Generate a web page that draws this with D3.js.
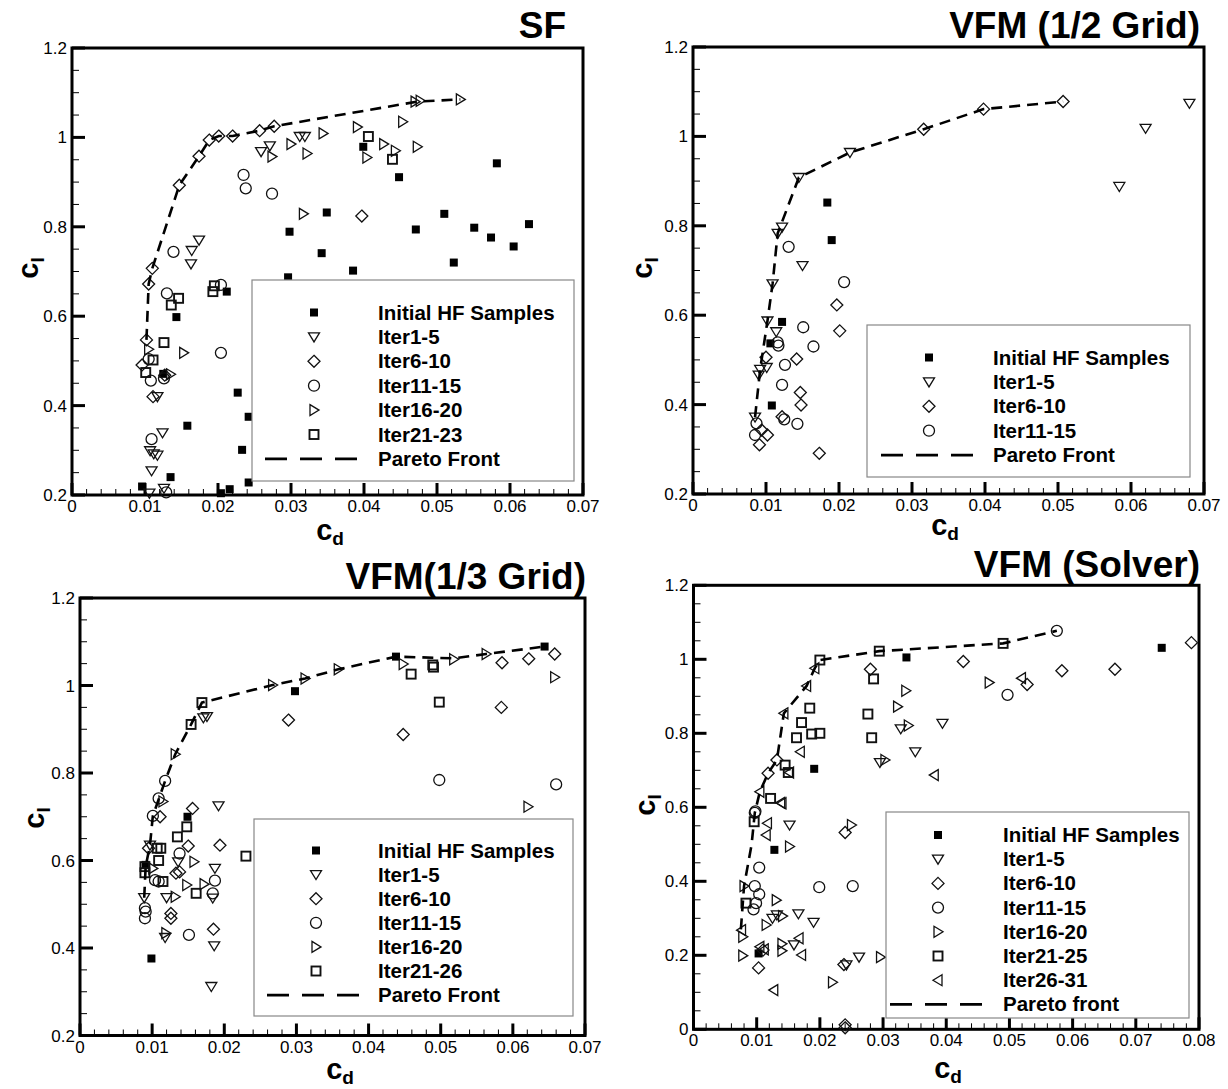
<!DOCTYPE html>
<html>
<head>
<meta charset="utf-8">
<script src="https://cdn.jsdelivr.net/npm/d3@7"></script>
<style>
  html, body { margin: 0; padding: 0; background: #fff; }
  svg { display: block; font-family: "Liberation Sans", Arial, sans-serif; }
</style>
</head>
<body>
<svg id="chart" width="1228" height="1089"></svg>
<script>
// ---------- Panel SF ----------
const sfInitial = [[0.0399,0.979],[0.0448,0.911],[0.0582,0.942],[0.0349,0.832],[0.0510,0.829],[0.0471,0.794],
  [0.0551,0.798],[0.0574,0.776],[0.0605,0.756],[0.0626,0.806],[0.0342,0.741],[0.0523,0.720],[0.0385,0.702],
  [0.0298,0.789],[0.0296,0.687],[0.0212,0.655],[0.0143,0.598],[0.0125,0.471],[0.0227,0.429],[0.0242,0.375],
  [0.0158,0.355],[0.0233,0.301],[0.0135,0.240],[0.0242,0.228],[0.0096,0.219],[0.0216,0.213],[0.0204,0.204]];
const sfIter1_5 = [[0.0164,0.747],[0.0174,0.770],[0.0163,0.717],[0.0259,0.968],[0.0271,0.981],[0.0312,1.002],
  [0.0319,1.002],[0.0117,0.420],[0.0124,0.339],[0.0107,0.299],[0.0117,0.289],[0.0109,0.254],[0.0106,0.204],
  [0.0126,0.215],[0.0112,0.292]];
const sfIter6_10 = [[0.0110,0.707],[0.0147,0.893],[0.0174,0.958],[0.0188,0.994],[0.0201,1.003],[0.0220,1.003],
  [0.0257,1.015],[0.0277,1.025],[0.0105,0.672],[0.0102,0.547],[0.0096,0.491],[0.0111,0.420],[0.0127,0.468],
  [0.0397,0.824]];
const sfIter11_15 = [[0.0139,0.744],[0.0235,0.916],[0.0238,0.886],[0.0274,0.874],[0.0130,0.651],[0.0204,0.670],
  [0.0204,0.518],[0.0105,0.504],[0.0108,0.456],[0.0126,0.461],[0.0109,0.325],[0.0129,0.206]];
const sfIter16_20 = [[0.0274,0.957],[0.0300,0.985],[0.0322,0.964],[0.0317,0.829],[0.0344,1.009],[0.0391,1.023],
  [0.0453,1.035],[0.0404,0.955],[0.0427,0.985],[0.0443,0.970],[0.0473,0.979],[0.0470,1.080],[0.0477,1.082],
  [0.0532,1.085],[0.0105,0.526],[0.0153,0.518],[0.0135,0.470]];
const sfIter21_23 = [[0.0406,1.002],[0.0439,0.951],[0.0195,0.668],[0.0193,0.655],[0.0146,0.640],[0.0136,0.625],
  [0.0126,0.541],[0.0111,0.502],[0.0101,0.474]];
const sfPareto = [[0.0102,0.547],[0.0105,0.672],[0.0110,0.707],[0.0147,0.893],[0.0174,0.958],[0.0188,0.994],
  [0.0201,1.003],[0.0220,1.003],[0.0257,1.015],[0.0277,1.025],[0.0473,1.080],[0.0532,1.085]];

// ---------- Panel VFM (1/2 Grid) ----------
const halfInitial = [[0.0184,0.852],[0.0190,0.768],[0.0122,0.585],[0.0106,0.537],[0.0108,0.398]];
const halfIter1_5 = [[0.0145,0.908],[0.0215,0.964],[0.0122,0.797],[0.0116,0.783],[0.0150,0.711],[0.0109,0.670],
  [0.0102,0.587],[0.0114,0.563],[0.0101,0.483],[0.0092,0.479],[0.0090,0.466],[0.0085,0.372],
  [0.0680,1.074],[0.0620,1.018],[0.0584,0.888]];
const halfIter6_10 = [[0.0316,1.016],[0.0398,1.061],[0.0507,1.078],[0.0197,0.623],[0.0201,0.565],[0.0142,0.502],
  [0.0100,0.506],[0.0147,0.427],[0.0148,0.399],[0.0122,0.373],[0.0094,0.343],[0.0102,0.332],[0.0091,0.310],
  [0.0173,0.291]];
const halfIter11_15 = [[0.0131,0.753],[0.0207,0.674],[0.0151,0.573],[0.0165,0.530],[0.0116,0.539],[0.0117,0.532],
  [0.0126,0.489],[0.0122,0.444],[0.0087,0.358],[0.0085,0.332],[0.0125,0.367],[0.0143,0.357]];
const halfPareto = [[0.0085,0.372],[0.0092,0.479],[0.0102,0.587],[0.0109,0.670],[0.0116,0.783],[0.0145,0.908],
  [0.0215,0.964],[0.0316,1.016],[0.0398,1.061],[0.0507,1.078]];

// ---------- Panel VFM(1/3 Grid) ----------
const thirdInitial = [[0.0298,0.987],[0.0149,0.700],[0.0438,1.066],[0.0644,1.089],[0.0099,0.376],[0.0091,0.590]];
const thirdIter1_5 = [[0.0171,0.926],[0.0176,0.929],[0.0192,0.725],[0.0097,0.635],[0.0136,0.597],[0.0187,0.582],
  [0.0089,0.515],[0.0120,0.515],[0.0184,0.514],[0.0118,0.424],[0.0186,0.405],[0.0182,0.312]];
const thirdIter6_10 = [[0.0289,0.921],[0.0156,0.719],[0.0111,0.700],[0.0585,1.052],[0.0622,1.061],[0.0658,1.072],
  [0.0584,0.950],[0.0448,0.888],[0.0150,0.633],[0.0194,0.635],[0.0095,0.628],[0.0133,0.571],[0.0138,0.574],
  [0.0126,0.479],[0.0126,0.468],[0.0185,0.443]];
const thirdIter11_15 = [[0.0118,0.782],[0.0109,0.742],[0.0101,0.702],[0.0498,0.784],[0.0660,0.774],[0.0138,0.616],
  [0.0104,0.555],[0.0109,0.552],[0.0187,0.554],[0.0184,0.525],[0.0090,0.491],[0.0090,0.468],[0.0091,0.483],
  [0.0151,0.430]];
const thirdIter16_20 = [[0.0132,0.843],[0.0267,1.001],[0.0312,1.016],[0.0358,1.037],[0.0518,1.060],[0.0563,1.072],
  [0.0448,1.049],[0.0658,1.019],[0.0621,0.723],[0.0115,0.735],[0.0101,0.582],[0.0158,0.597],[0.0148,0.544],
  [0.0172,0.546],[0.0132,0.517],[0.0119,0.434]];
const thirdIter21_26 = [[0.0169,0.961],[0.0154,0.911],[0.0459,1.026],[0.0489,1.047],[0.0490,1.042],[0.0498,0.962],
  [0.0148,0.677],[0.0135,0.654],[0.0107,0.628],[0.0112,0.628],[0.0109,0.600],[0.0090,0.586],[0.0090,0.572],
  [0.0115,0.552],[0.0161,0.525],[0.0230,0.610]];
const thirdPareto = [[0.0089,0.515],[0.0091,0.586],[0.0097,0.635],[0.0101,0.702],[0.0118,0.782],[0.0132,0.843],
  [0.0154,0.911],[0.0169,0.961],[0.0267,1.001],[0.0312,1.016],[0.0358,1.037],[0.0438,1.066],[0.0518,1.062],
  [0.0563,1.072],[0.0644,1.089]];

// ---------- Panel VFM (Solver) ----------
const solverInitial = [[0.0337,1.005],[0.0191,0.704],[0.0741,1.031],[0.0128,0.485],[0.0103,0.205]];
const solverIter1_5 = [[0.0328,0.812],[0.0351,0.750],[0.0295,0.721],[0.0394,0.827],[0.0152,0.552],[0.0132,0.309],
  [0.0166,0.312],[0.0190,0.289],[0.0159,0.228],[0.0262,0.195],[0.0242,0.174],[0.0125,0.300]];
const solverIter6_10 = [[0.0280,0.973],[0.0132,0.728],[0.0118,0.692],[0.0427,0.994],[0.0528,0.932],[0.0583,0.969],
  [0.0667,0.973],[0.0788,1.045],[0.0240,0.532],[0.0103,0.166],[0.0238,0.175],[0.0240,0.012],[0.0240,0.004],
  [0.0110,0.214]];
const solverIter11_15 = [[0.0575,1.077],[0.0497,0.904],[0.0097,0.585],[0.0098,0.589],[0.0104,0.437],[0.0097,0.387],
  [0.0104,0.365],[0.0099,0.341],[0.0095,0.324],[0.0199,0.384],[0.0252,0.387]];
const solverIter16_20 = [[0.0336,0.915],[0.0323,0.872],[0.0340,0.821],[0.0303,0.728],[0.0468,0.937],[0.0080,0.387],
  [0.0078,0.250],[0.0078,0.199],[0.0131,0.349],[0.0152,0.494],[0.0115,0.282],[0.0141,0.306],[0.0140,0.231],
  [0.0140,0.212],[0.0220,0.127],[0.0250,0.552],[0.0296,0.195]];
const solverIter21_25 = [[0.0200,0.998],[0.0294,1.022],[0.0490,1.043],[0.0184,0.868],[0.0171,0.829],[0.0163,0.788],
  [0.0187,0.798],[0.0200,0.800],[0.0276,0.852],[0.0282,0.788],[0.0285,0.947],[0.0145,0.714],[0.0150,0.694],
  [0.0122,0.624],[0.0096,0.561],[0.0083,0.341]];
const solverIter26_31 = [[0.0192,0.976],[0.0179,0.928],[0.0143,0.854],[0.0105,0.642],[0.0169,0.750],[0.0152,0.694],
  [0.0138,0.612],[0.0381,0.687],[0.0519,0.949],[0.0140,0.611],[0.0117,0.557],[0.0115,0.525],[0.0167,0.246],
  [0.0171,0.201],[0.0112,0.216],[0.0127,0.106],[0.0076,0.268],[0.0105,0.223]];
const solverPareto = [[0.0075,0.270],[0.0080,0.387],[0.0092,0.500],[0.0097,0.585],[0.0105,0.642],[0.0118,0.692],
  [0.0132,0.728],[0.0143,0.854],[0.0179,0.928],[0.0192,0.976],[0.0200,0.998],[0.0294,1.022],[0.0490,1.043],
  [0.0575,1.077]];

// Tick labels
const xTickLabels7 = ["0","0.01","0.02","0.03","0.04","0.05","0.06","0.07"];
const xTickLabels8 = ["0","0.01","0.02","0.03","0.04","0.05","0.06","0.07","0.08"];
const yTickLabels02 = ["0.2","0.4","0.6","0.8","1","1.2"];
const yTickLabels0 = ["0","0.2","0.4","0.6","0.8","1","1.2"];

// Marker drawing for each series kind
function drawMarker(g, kind, x, y) {
  if (kind === "filled") {
    g.append("rect").attr("x", x - 4).attr("y", y - 4).attr("width", 8).attr("height", 8).attr("fill", "#000");
    return;
  }
  const common = s => s.attr("fill", "none").attr("stroke", "#111").attr("stroke-width", 1.3);
  if (kind === "circle") { common(g.append("circle").attr("cx", x).attr("cy", y).attr("r", 5.5)); return; }
  if (kind === "square") {
    g.append("rect").attr("x", x - 4.5).attr("y", y - 4.5).attr("width", 9).attr("height", 9)
      .attr("fill", "none").attr("stroke", "#111").attr("stroke-width", 1.9);
    return;
  }
  let d;
  if (kind === "down") d = "M-5.5,-4L5.5,-4L0,5Z";
  if (kind === "diamond") d = "M0,-6L6,0L0,6L-6,0Z";
  if (kind === "right") d = "M-4,-5.5L5,0L-4,5.5Z";
  if (kind === "left") d = "M4,-5.5L-5,0L4,5.5Z";
  common(g.append("path").attr("d", d).attr("transform", `translate(${x},${y})`));
}

const svg = d3.select("#chart");

function panel(cfg) {
  const g = svg.append("g");
  const x = d3.scaleLinear().domain(cfg.xDomain).range([cfg.left, cfg.right]);
  const y = d3.scaleLinear().domain(cfg.yDomain).range([cfg.bottom, cfg.top]);

  // minor ticks
  const xMinor = d3.range(cfg.xDomain[0], cfg.xDomain[1] + 1e-9, 0.002);
  const yMinor = d3.range(cfg.yDomain[0], cfg.yDomain[1] + 1e-9, 0.05);
  g.selectAll(null).data(xMinor).join("line")
    .attr("x1", d => x(d)).attr("x2", d => x(d)).attr("y1", cfg.bottom).attr("y2", cfg.bottom - 6)
    .attr("stroke", "#000").attr("stroke-width", 1);
  g.selectAll(null).data(yMinor).join("line")
    .attr("y1", d => y(d)).attr("y2", d => y(d)).attr("x1", cfg.left).attr("x2", cfg.left + 7)
    .attr("stroke", "#000").attr("stroke-width", 1);

  // major ticks and labels
  cfg.xLabels.forEach(lab => {
    const v = +lab;
    g.append("line").attr("x1", x(v)).attr("x2", x(v)).attr("y1", cfg.bottom).attr("y2", cfg.bottom - 12)
      .attr("stroke", "#000").attr("stroke-width", 3);
    g.append("text").attr("x", x(v)).attr("y", cfg.bottom + 17).attr("text-anchor", "middle")
      .attr("font-size", 17).text(lab);
  });
  cfg.yLabels.forEach(lab => {
    const v = +lab;
    g.append("line").attr("y1", y(v)).attr("y2", y(v)).attr("x1", cfg.left).attr("x2", cfg.left + 13)
      .attr("stroke", "#000").attr("stroke-width", 3);
    g.append("text").attr("x", cfg.left - 5).attr("y", y(v) + 6).attr("text-anchor", "end")
      .attr("font-size", 17).text(lab);
  });

  // frame
  g.append("rect").attr("x", cfg.left).attr("y", cfg.top)
    .attr("width", cfg.right - cfg.left).attr("height", cfg.bottom - cfg.top)
    .attr("fill", "none").attr("stroke", "#000").attr("stroke-width", 3);

  // series markers
  cfg.series.forEach(s => {
    s.data.forEach(p => drawMarker(g, s.kind, x(p[0]), y(p[1])));
  });

  // Pareto front
  g.append("path").datum(cfg.pareto)
    .attr("d", d3.line().x(d => x(d[0])).y(d => y(d[1])))
    .attr("fill", "none").attr("stroke", "#000").attr("stroke-width", 2.6)
    .attr("stroke-dasharray", "11,7");

  // legend
  const L = cfg.legend;
  g.append("rect").attr("x", L.x0).attr("y", L.y0).attr("width", L.x1 - L.x0).attr("height", L.y1 - L.y0)
    .attr("fill", "#fff").attr("stroke", "#888").attr("stroke-width", 1.2);
  cfg.series.forEach((s, i) => {
    const yy = L.rowY + i * L.step;
    drawMarker(g, s.kind, L.markerX, yy);
    g.append("text").attr("x", L.textX).attr("y", yy + 7).attr("font-size", 20.5).attr("font-weight", "bold")
      .text(s.name);
  });
  const py = L.rowY + cfg.series.length * L.step;
  g.append("line").attr("x1", L.dashX0).attr("x2", L.dashX1).attr("y1", py).attr("y2", py)
    .attr("stroke", "#000").attr("stroke-width", 2.6).attr("stroke-dasharray", "22,13");
  g.append("text").attr("x", L.textX).attr("y", py + 7).attr("font-size", 20.5).attr("font-weight", "bold")
    .text(cfg.paretoName);

  // titles
  g.append("text").attr("x", cfg.titleX).attr("y", cfg.titleY).attr("text-anchor", "end")
    .attr("font-size", 37).attr("font-weight", "bold").text(cfg.title);
  const xl = g.append("text").attr("x", cfg.xLabelX).attr("y", cfg.xLabelY).attr("text-anchor", "middle")
    .attr("font-weight", "bold").attr("font-size", 29);
  xl.append("tspan").text("c");
  xl.append("tspan").attr("font-size", 19).attr("dy", 5).text("d");
  const yl = g.append("text").attr("transform", `translate(${cfg.yLabelX},${cfg.yLabelY}) rotate(-90)`)
    .attr("text-anchor", "middle").attr("font-weight", "bold").attr("font-size", 29);
  yl.append("tspan").text("c");
  yl.append("tspan").attr("font-size", 19).attr("dy", 6).text("l");
}

panel({
  left: 72, right: 583, top: 48, bottom: 495, xDomain: [0, 0.07], yDomain: [0.2, 1.2],
  xLabels: xTickLabels7, yLabels: yTickLabels02,
  title: "SF", titleX: 566, titleY: 38, xLabelX: 330, xLabelY: 540, yLabelX: 38, yLabelY: 268,
  series: [
    { name: "Initial HF Samples", kind: "filled", data: sfInitial },
    { name: "Iter1-5", kind: "down", data: sfIter1_5 },
    { name: "Iter6-10", kind: "diamond", data: sfIter6_10 },
    { name: "Iter11-15", kind: "circle", data: sfIter11_15 },
    { name: "Iter16-20", kind: "right", data: sfIter16_20 },
    { name: "Iter21-23", kind: "square", data: sfIter21_23 }
  ],
  pareto: sfPareto, paretoName: "Pareto Front",
  legend: { x0: 252, y0: 280, x1: 574, y1: 481, markerX: 314, textX: 378, rowY: 312.5, step: 24.4, dashX0: 265, dashX1: 360 }
});

panel({
  left: 693, right: 1204, top: 47, bottom: 494, xDomain: [0, 0.07], yDomain: [0.2, 1.2],
  xLabels: xTickLabels7, yLabels: yTickLabels02,
  title: "VFM (1/2 Grid)", titleX: 1200, titleY: 38, xLabelX: 945, xLabelY: 535, yLabelX: 652, yLabelY: 268,
  series: [
    { name: "Initial HF Samples", kind: "filled", data: halfInitial },
    { name: "Iter1-5", kind: "down", data: halfIter1_5 },
    { name: "Iter6-10", kind: "diamond", data: halfIter6_10 },
    { name: "Iter11-15", kind: "circle", data: halfIter11_15 }
  ],
  pareto: halfPareto, paretoName: "Pareto Front",
  legend: { x0: 867, y0: 325, x1: 1190, y1: 477, markerX: 929, textX: 993, rowY: 357.5, step: 24.4, dashX0: 881, dashX1: 976 }
});

panel({
  left: 80, right: 585, top: 598, bottom: 1035.5, xDomain: [0, 0.07], yDomain: [0.2, 1.2],
  xLabels: xTickLabels7, yLabels: yTickLabels02,
  title: "VFM(1/3 Grid)", titleX: 586, titleY: 589, xLabelX: 340, xLabelY: 1079, yLabelX: 44, yLabelY: 818,
  series: [
    { name: "Initial HF Samples", kind: "filled", data: thirdInitial },
    { name: "Iter1-5", kind: "down", data: thirdIter1_5 },
    { name: "Iter6-10", kind: "diamond", data: thirdIter6_10 },
    { name: "Iter11-15", kind: "circle", data: thirdIter11_15 },
    { name: "Iter16-20", kind: "right", data: thirdIter16_20 },
    { name: "Iter21-26", kind: "square", data: thirdIter21_26 }
  ],
  pareto: thirdPareto, paretoName: "Pareto Front",
  legend: { x0: 254, y0: 819, x1: 573, y1: 1016, markerX: 316, textX: 378, rowY: 850.5, step: 24.1, dashX0: 267, dashX1: 360 }
});

panel({
  left: 693.5, right: 1199, top: 585.3, bottom: 1029.3, xDomain: [0, 0.08], yDomain: [0, 1.2],
  xLabels: xTickLabels8, yLabels: yTickLabels0,
  title: "VFM (Solver)", titleX: 1200, titleY: 577, xLabelX: 948, xLabelY: 1078, yLabelX: 655, yLabelY: 805,
  series: [
    { name: "Initial HF Samples", kind: "filled", data: solverInitial },
    { name: "Iter1-5", kind: "down", data: solverIter1_5 },
    { name: "Iter6-10", kind: "diamond", data: solverIter6_10 },
    { name: "Iter11-15", kind: "circle", data: solverIter11_15 },
    { name: "Iter16-20", kind: "right", data: solverIter16_20 },
    { name: "Iter21-25", kind: "square", data: solverIter21_25 },
    { name: "Iter26-31", kind: "left", data: solverIter26_31 }
  ],
  pareto: solverPareto, paretoName: "Pareto front",
  legend: { x0: 886, y0: 812, x1: 1189, y1: 1018, markerX: 938, textX: 1003, rowY: 835, step: 24.2, dashX0: 890, dashX1: 985 }
});
</script>
</body>
</html>
